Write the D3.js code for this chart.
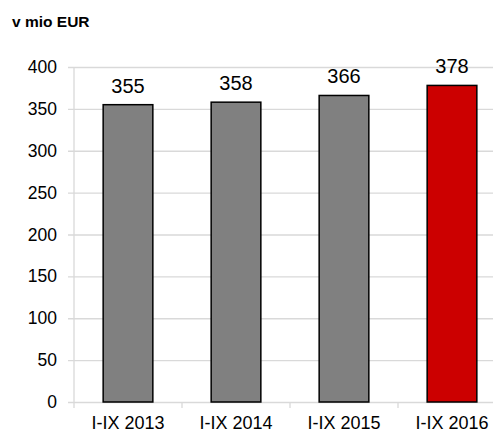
<!DOCTYPE html>
<html>
<head>
<meta charset="utf-8">
<script src="https://cdn.jsdelivr.net/npm/d3@7"></script>
<style>
  body { margin: 0; background: #fff; }
  text { font-family: "Liberation Sans", Arial, sans-serif; }
</style>
</head>
<body>
<div id="chart"></div>
<script>
// data
var categories = ["I-IX 2013", "I-IX 2014", "I-IX 2015", "I-IX 2016"];
var values = [355, 358, 366, 378];
var colors = ["#808080", "#808080", "#808080", "#cc0000"];
var yTicks = [0, 50, 100, 150, 200, 250, 300, 350, 400];

var margin = {top: 67, right: -13, bottom: 30, left: 74},
    width = 493 - margin.left - margin.right,
    height = 432 - margin.top - margin.bottom;

var svg = d3.select("#chart")
  .append("svg")
    .attr("width", 493)
    .attr("height", 432)
  .append("g")
    .attr("transform", "translate(" + margin.left + "," + margin.top + ")");

// title
svg.append("text")
  .attr("x", -62)
  .attr("y", -40)
  .style("font-size", "15.5px")
  .style("font-weight", "bold")
  .text("v mio EUR");

var x = d3.scaleBand()
  .domain(categories)
  .range([0, width])
  .paddingInner(0.54)
  .paddingOuter(0.27);

var y = d3.scaleLinear()
  .domain([0, 400])
  .range([height, 0]);

// gridlines + y axis
var yAxis = svg.append("g")
  .call(d3.axisLeft(y).tickValues(yTicks).tickSize(-width).tickPadding(17));
yAxis.select(".domain").remove();
yAxis.selectAll(".tick line")
  .attr("x1", -6)
  .attr("stroke", "#d9d9d9")
  .attr("stroke-width", 1.3);
yAxis.selectAll(".tick text")
  .style("font-size", "17.5px")
  .attr("fill", "#000");

// vertical axis line
svg.append("line")
  .attr("x1", 0).attr("x2", 0)
  .attr("y1", 0).attr("y2", height + 6)
  .attr("stroke", "#d9d9d9")
  .attr("stroke-width", 1.3);

// category boundary ticks
var step = x.step();
svg.selectAll(".ctick")
  .data(categories.slice(1))
  .enter()
  .append("line")
    .attr("x1", function(d, i) { return step * (i + 1); })
    .attr("x2", function(d, i) { return step * (i + 1); })
    .attr("y1", height)
    .attr("y2", height + 6)
    .attr("stroke", "#d9d9d9")
    .attr("stroke-width", 1.3);

// bars
svg.selectAll(".bar")
  .data(values)
  .enter()
  .append("rect")
    .attr("x", function(d, i) { return x(categories[i]); })
    .attr("y", function(d) { return y(d); })
    .attr("width", x.bandwidth())
    .attr("height", function(d) { return height - y(d); })
    .attr("fill", function(d, i) { return colors[i]; })
    .attr("stroke", "#000")
    .attr("stroke-width", 1.5);

// value labels
svg.selectAll(".val")
  .data(values)
  .enter()
  .append("text")
    .attr("x", function(d, i) { return x(categories[i]) + x.bandwidth() / 2; })
    .attr("y", function(d) { return y(d) - 12; })
    .attr("text-anchor", "middle")
    .style("font-size", "20px")
    .text(function(d) { return d; });

// category labels
svg.selectAll(".cat")
  .data(categories)
  .enter()
  .append("text")
    .attr("x", function(d) { return x(d) + x.bandwidth() / 2; })
    .attr("y", height + 27)
    .attr("text-anchor", "middle")
    .style("font-size", "18px")
    .text(function(d) { return d; });
</script>
</body>
</html>
